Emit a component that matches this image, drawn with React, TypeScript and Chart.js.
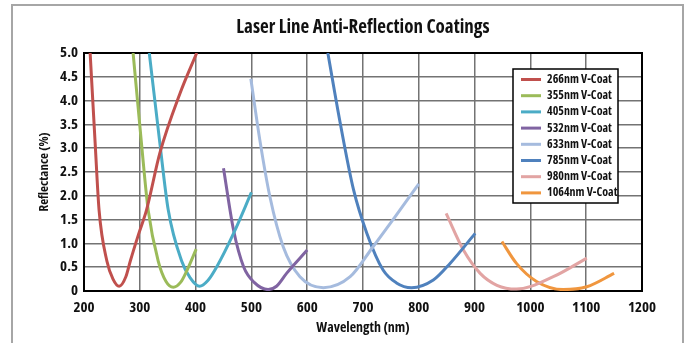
import React, { useEffect, useRef } from 'react';
import { Chart, registerables } from 'chart.js';

Chart.register(...registerables);

const FONT = '"Open Sans", "DejaVu Sans Condensed", sans-serif';
const WEIGHT = 'bold condensed';

const chartTitle = 'Laser Line Anti-Reflection Coatings';
const xAxisTitle = 'Wavelength (nm)';
const yAxisTitle = 'Reflectance (%)';

const xTickLabels = ['200', '300', '400', '500', '600', '700', '800', '900', '1000', '1100', '1200'];
const yTickLabels = ['0', '0.5', '1.0', '1.5', '2.0', '2.5', '3.0', '3.5', '4.0', '4.5', '5.0'];

const seriesLabels = [
  '266nm V-Coat',
  '355nm V-Coat',
  '405nm V-Coat',
  '532nm V-Coat',
  '633nm V-Coat',
  '785nm V-Coat',
  '980nm V-Coat',
  '1064nm V-Coat',
];
const seriesColors = ['#C0504D', '#9BBB59', '#4BACC6', '#8064A2', '#A5BBDE', '#4F81BD', '#E2A4A3', '#F0963E'];

const wl266 = [211, 220, 227, 241, 252, 263, 275, 283, 298, 312, 336, 372, 402];
const r266 = [5.0, 3.1, 1.7, 0.63, 0.25, 0.1, 0.3, 0.63, 1.2, 1.7, 2.9, 4.15, 5.0];

const wl355 = [288, 303, 315, 333, 347, 360, 373, 384, 401];
const r355 = [5.0, 3.1, 1.7, 0.63, 0.2, 0.08, 0.18, 0.42, 0.88];

const wl405 = [317, 336, 351, 375, 390, 407, 422, 438, 468, 500];
const r405 = [5.0, 3.1, 1.7, 0.63, 0.28, 0.1, 0.22, 0.51, 1.21, 2.07];

const wl532 = [450, 468, 486, 505, 530, 545, 563, 600];
const r532 = [2.58, 1.28, 0.51, 0.18, 0.03, 0.1, 0.37, 0.86];

const wl633 = [499, 515, 533, 557, 587, 629, 677, 718, 760, 800];
const r633 = [4.46, 3.18, 1.99, 0.93, 0.3, 0.07, 0.3, 0.93, 1.6, 2.25];

const wl785 = [637, 659, 683, 707, 736, 760, 787, 826, 856, 901];
const r785 = [5.0, 3.54, 2.13, 1.21, 0.44, 0.17, 0.07, 0.23, 0.58, 1.21];

const wl980 = [849, 880, 910, 940, 975, 1041, 1101];
const r980 = [1.63, 0.86, 0.37, 0.12, 0.04, 0.3, 0.69];

const wl1064 = [949, 975, 1011, 1059, 1101, 1150];
const r1064 = [1.04, 0.58, 0.2, 0.03, 0.09, 0.37];

const seriesX = [wl266, wl355, wl405, wl532, wl633, wl785, wl980, wl1064];
const seriesY = [r266, r355, r405, r532, r633, r785, r980, r1064];

const framePlugin = {
  id: 'outerFrame',
  beforeDraw(chart: any) {
    const { ctx, width, height } = chart;
    ctx.save();
    ctx.fillStyle = '#ffffff';
    ctx.fillRect(0, 0, width, height);
    ctx.strokeStyle = '#a6a6a6';
    ctx.lineWidth = 2;
    ctx.strokeRect(12, 5, 671, height + 20);
    ctx.restore();
  },
};

const plotBorderPlugin = {
  id: 'plotBorder',
  beforeDatasetsDraw(chart: any) {
    const { ctx, chartArea: a } = chart;
    ctx.save();
    ctx.strokeStyle = '#000000';
    ctx.lineWidth = 2;
    ctx.strokeRect(a.left, a.top, a.right - a.left, a.bottom - a.top);
    ctx.restore();
  },
};

const legendPlugin = {
  id: 'boxLegend',
  afterDraw(chart: any) {
    const { ctx, chartArea: a } = chart;
    const bx = a.right - 129;
    const by = a.top + 16;
    const bw = 105;
    const bh = 134;
    ctx.save();
    ctx.fillStyle = '#ffffff';
    ctx.fillRect(bx, by, bw, bh);
    ctx.strokeStyle = '#000000';
    ctx.lineWidth = 1.5;
    ctx.strokeRect(bx, by, bw, bh);
    ctx.font = `${WEIGHT} 12px ${FONT}`;
    ctx.textBaseline = 'middle';
    ctx.textAlign = 'left';
    chart.data.datasets.forEach((ds: any, i: number) => {
      const cy = by + 10.5 + i * 16.2;
      ctx.strokeStyle = ds.borderColor;
      ctx.lineWidth = 3;
      ctx.beginPath();
      ctx.moveTo(bx + 8, cy);
      ctx.lineTo(bx + 28, cy);
      ctx.stroke();
      ctx.fillStyle = '#111111';
      ctx.fillText(ds.label, bx + 34, cy);
    });
    ctx.restore();
  },
};

export default function App() {
  const canvasRef = useRef<HTMLCanvasElement | null>(null);

  useEffect(() => {
    document.body.style.margin = '0';
    const canvas = canvasRef.current;
    if (!canvas) return;
    const datasets = seriesLabels.map((label, i) => ({
      label,
      data: seriesX[i].map((x, j) => ({ x, y: seriesY[i][j] })),
      borderColor: seriesColors[i],
      backgroundColor: seriesColors[i],
      borderWidth: 3,
      pointRadius: 0,
      fill: false,
      cubicInterpolationMode: 'monotone' as const,
    }));
    const chart = new Chart(canvas, {
      type: 'line',
      data: { datasets },
      plugins: [framePlugin, plotBorderPlugin, legendPlugin],
      options: {
        animation: false,
        responsive: false,
        maintainAspectRatio: false,
        layout: { padding: { left: 0, right: 45, top: 0, bottom: 0 } },
        plugins: {
          legend: { display: false },
          tooltip: { enabled: false },
          title: {
            display: true,
            text: chartTitle,
            fullSize: false,
            color: '#111111',
            font: { family: FONT, size: 19, weight: WEIGHT as any, lineHeight: 1.2 },
            padding: { top: 16, bottom: 14.2 },
          },
        },
        scales: {
          x: {
            type: 'linear',
            min: 200,
            max: 1200,
            afterFit: (scale: any) => {
              scale.height = 52;
            },
            ticks: {
              stepSize: 100,
              padding: 8,
              color: '#111111',
              font: { family: FONT, size: 15, weight: WEIGHT as any },
              callback: (_v: any, i: number) => xTickLabels[i],
              maxRotation: 0,
            },
            grid: { color: '#737373', lineWidth: 1.5, drawTicks: false },
            border: { display: true, color: '#000000', width: 2 },
            title: {
              display: true,
              text: xAxisTitle,
              color: '#111111',
              font: { family: FONT, size: 14, weight: WEIGHT as any },
              padding: { top: 0, bottom: 7 },
            },
          },
          y: {
            type: 'linear',
            min: 0,
            max: 5,
            afterFit: (scale: any) => {
              scale.width = 84;
            },
            ticks: {
              stepSize: 0.5,
              padding: 6,
              color: '#111111',
              font: { family: FONT, size: 15, weight: WEIGHT as any },
              callback: (_v: any, i: number) => yTickLabels[i],
            },
            grid: { color: '#737373', lineWidth: 1.5, drawTicks: false },
            border: { display: true, color: '#000000', width: 2 },
            title: {
              display: true,
              text: yAxisTitle,
              color: '#111111',
              font: { family: FONT, size: 13, weight: WEIGHT as any },
              padding: { top: 36, bottom: 0 },
            },
          },
        },
      },
    });
    return () => chart.destroy();
  }, []);

  return (
    <div style={{ position: 'absolute', left: 0, top: 0, width: 687, height: 343 }}>
      <canvas ref={canvasRef} width={687} height={343} style={{ width: 687, height: 343 }} />
    </div>
  );
}
